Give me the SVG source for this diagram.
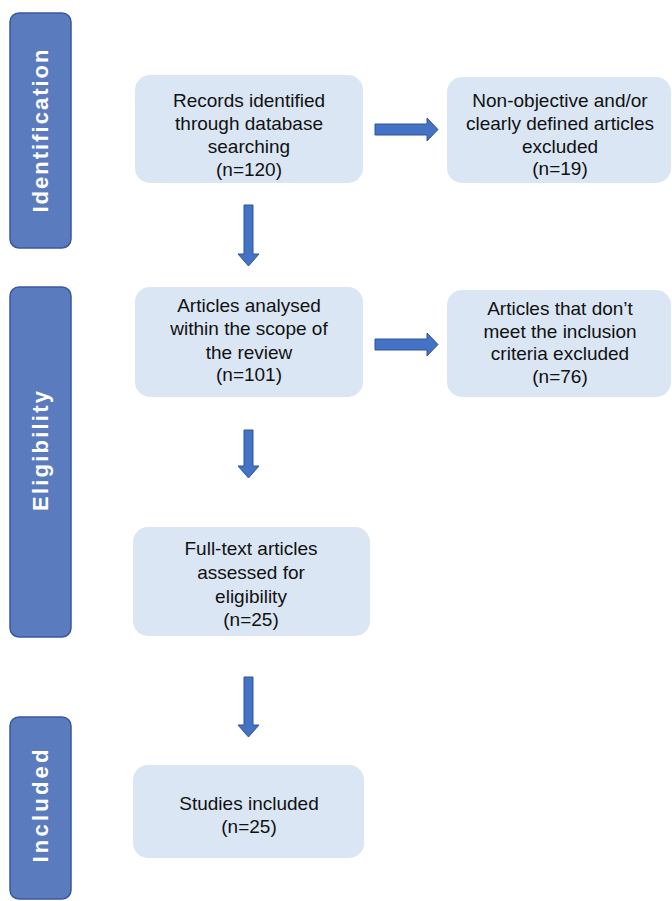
<svg xmlns="http://www.w3.org/2000/svg" width="672" height="901" viewBox="0 0 672 901">
<style>
.stage{fill:#5b7bbf;stroke:#3a58a0;stroke-width:1.5}
.stxt{font-family:"Liberation Sans",Arial,sans-serif;font-weight:bold;font-size:22px;fill:#ffffff;text-anchor:middle}
.box{fill:#dae6f4}
.t{font-family:"Liberation Sans",Arial,sans-serif;font-size:19px;fill:#111111;text-anchor:middle}
.arr{fill:#4472c4;stroke:#2f5597;stroke-width:1}
</style>
<rect width="672" height="901" fill="#ffffff"/>
<g id="stage-identification">
<rect class="stage" x="10" y="13" width="61" height="235" rx="9"/>
<text class="stxt" transform="translate(48,131) rotate(-90)" textLength="163" lengthAdjust="spacing">Identification</text>
</g>
<g id="stage-eligibility">
<rect class="stage" x="10" y="287" width="61" height="350" rx="9"/>
<text class="stxt" transform="translate(48,451) rotate(-90)" textLength="120" lengthAdjust="spacing">Eligibility</text>
</g>
<g id="stage-included">
<rect class="stage" x="10" y="717" width="61" height="182" rx="9"/>
<text class="stxt" transform="translate(48,806) rotate(-90)" textLength="113" lengthAdjust="spacing">Included</text>
</g>
<g id="node-records">
<rect class="box" x="135" y="75" width="228" height="108" rx="15"/>
<text class="t" x="249" y="107">Records identified</text>
<text class="t" x="249" y="130">through database</text>
<text class="t" x="249" y="153">searching</text>
<text class="t" x="249" y="176">(n=120)</text>
</g>
<g id="node-nonobjective">
<rect class="box" x="447" y="77" width="224" height="106" rx="15"/>
<text class="t" x="560" y="107">Non-objective and/or</text>
<text class="t" x="560" y="130">clearly defined articles</text>
<text class="t" x="560" y="153">excluded</text>
<text class="t" x="560" y="175">(n=19)</text>
</g>
<g id="node-analysed">
<rect class="box" x="135" y="287" width="228" height="110" rx="15"/>
<text class="t" x="249" y="312">Articles analysed</text>
<text class="t" x="249" y="335">within the scope of</text>
<text class="t" x="249" y="359">the review</text>
<text class="t" x="249" y="381">(n=101)</text>
</g>
<g id="node-notmeet">
<rect class="box" x="447" y="290" width="224" height="107" rx="15"/>
<text class="t" x="560" y="315">Articles that don’t</text>
<text class="t" x="560" y="338">meet the inclusion</text>
<text class="t" x="560" y="360">criteria excluded</text>
<text class="t" x="560" y="383">(n=76)</text>
</g>
<g id="node-fulltext">
<rect class="box" x="133" y="527" width="237" height="109" rx="15"/>
<text class="t" x="251" y="555">Full-text articles</text>
<text class="t" x="251" y="579">assessed for</text>
<text class="t" x="251" y="603">eligibility</text>
<text class="t" x="251" y="626">(n=25)</text>
</g>
<g id="node-studies">
<rect class="box" x="133" y="765" width="231" height="93" rx="15"/>
<text class="t" x="249" y="810">Studies included</text>
<text class="t" x="249" y="833">(n=25)</text>
</g>
<g id="connectors">
<path class="arr" d="M375,124 H427 V118 L438,129.5 L427,141 V135 H375 Z"/>
<path class="arr" d="M375,339 H427 V333 L438,344.5 L427,356 V350 H375 Z"/>
<path class="arr" d="M244,205 H253 V254 H259 L248.5,266 L238,254 H244 Z"/>
<path class="arr" d="M244,430 H253 V466 H259 L248.5,478 L238,466 H244 Z"/>
<path class="arr" d="M244,677 H253 V725 H259 L248.5,737 L238,725 H244 Z"/>
</g>
</svg>
